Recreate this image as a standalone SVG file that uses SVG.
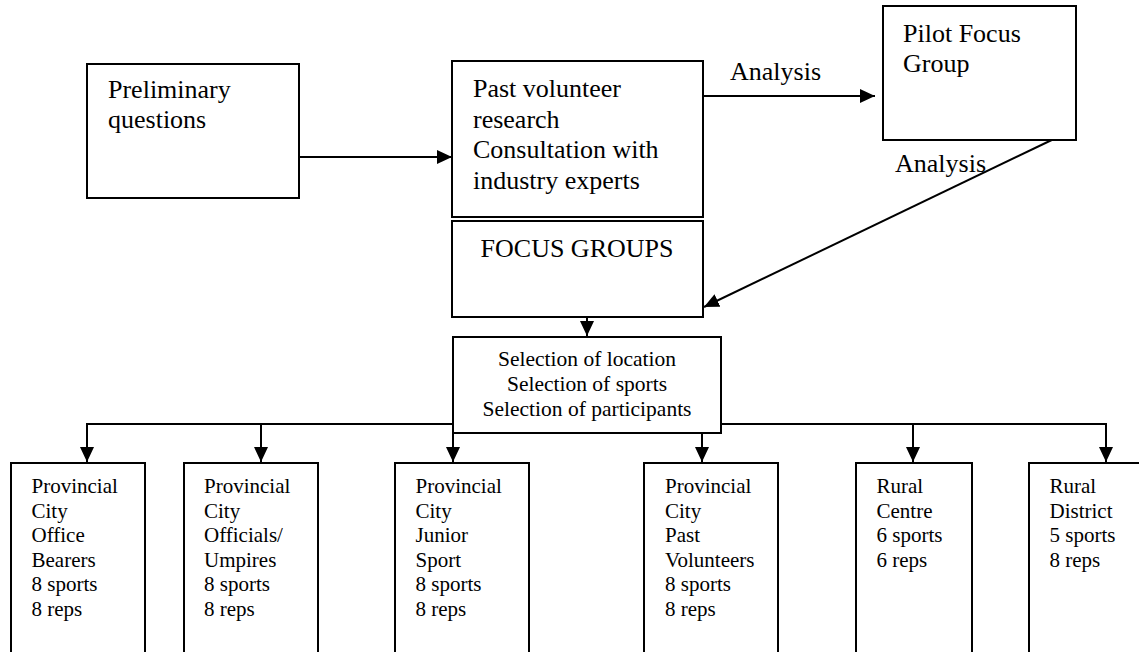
<svg xmlns="http://www.w3.org/2000/svg" width="1139" height="652" viewBox="0 0 1139 652">
<style>
.box{fill:#fff;stroke:#000;stroke-width:2}
.ln{fill:none;stroke:#000;stroke-width:2}
text{font-family:'Liberation Serif','DejaVu Serif','Times New Roman',serif;fill:#000}
.big{font-size:26px}
.mid{font-size:21.5px}
.sm{font-size:21px}
</style>
<defs>
<marker id="ah" markerUnits="userSpaceOnUse" markerWidth="15" markerHeight="14" refX="15" refY="7" orient="auto" viewBox="0 0 15 14">
<path d="M0,0 L15,7 L0,14 z" fill="#000"/>
</marker>
</defs>
<rect width="1139" height="652" fill="#fff"/>
<g id="connectors">
<line class="ln" x1="299" y1="157" x2="452" y2="157" marker-end="url(#ah)"/>
<line class="ln" x1="703" y1="96" x2="875" y2="96" marker-end="url(#ah)"/>
<line class="ln" x1="1058" y1="137" x2="704" y2="307" marker-end="url(#ah)"/>
<line class="ln" x1="587" y1="298" x2="587" y2="336" marker-end="url(#ah)"/>
<line class="ln" x1="87" y1="424" x2="1106" y2="424"/>
<line class="ln" x1="87" y1="423" x2="87" y2="462" marker-end="url(#ah)"/>
<line class="ln" x1="261" y1="424" x2="261" y2="462" marker-end="url(#ah)"/>
<line class="ln" x1="453" y1="424" x2="453" y2="462" marker-end="url(#ah)"/>
<line class="ln" x1="702" y1="433" x2="702" y2="462" marker-end="url(#ah)"/>
<line class="ln" x1="913" y1="424" x2="913" y2="462" marker-end="url(#ah)"/>
<line class="ln" x1="1106" y1="423" x2="1106" y2="462" marker-end="url(#ah)"/>
</g>
<g id="preliminary">
<rect class="box" x="87" y="64" width="212" height="134"/>
<text class="big" x="108" y="98">Preliminary</text>
<text class="big" x="108" y="128">questions</text>
</g>
<g id="past">
<rect class="box" x="452" y="61" width="251" height="156"/>
<text class="big" x="473" y="97">Past volunteer</text>
<text class="big" x="473" y="127.5">research</text>
<text class="big" x="473" y="158">Consultation with</text>
<text class="big" x="473" y="188.5">industry experts</text>
</g>
<g id="analysis1">
<text class="big" x="730" y="80">Analysis</text>
</g>
<g id="pilot">
<rect class="box" x="883" y="6" width="193" height="134"/>
<text class="big" x="903" y="42">Pilot Focus</text>
<text class="big" x="903" y="72">Group</text>
</g>
<g id="analysis2">
<text class="big" x="895" y="172">Analysis</text>
</g>
<g id="focus">
<rect class="box" x="452" y="221" width="251" height="96"/>
<text class="big" x="577" y="257" text-anchor="middle">FOCUS GROUPS</text>
</g>
<g id="selection">
<rect class="box" x="453" y="337" width="268" height="96"/>
<text class="mid" x="587" y="366" text-anchor="middle">Selection of location</text>
<text class="mid" x="587" y="391" text-anchor="middle">Selection of sports</text>
<text class="mid" x="587" y="416" text-anchor="middle">Selection of participants</text>
</g>
<g id="office">
<rect class="box" x="11" y="463" width="134" height="240"/>
<text class="sm"><tspan x="31.5" y="493">Provincial</tspan><tspan x="31.5" y="517.5">City</tspan><tspan x="31.5" y="542">Office</tspan><tspan x="31.5" y="566.5">Bearers</tspan><tspan x="31.5" y="591">8 sports</tspan><tspan x="31.5" y="615.5">8 reps</tspan></text>
</g>
<g id="officials">
<rect class="box" x="184" y="463" width="134" height="240"/>
<text class="sm"><tspan x="204" y="493">Provincial</tspan><tspan x="204" y="517.5">City</tspan><tspan x="204" y="542">Officials/</tspan><tspan x="204" y="566.5">Umpires</tspan><tspan x="204" y="591">8 sports</tspan><tspan x="204" y="615.5">8 reps</tspan></text>
</g>
<g id="junior">
<rect class="box" x="395" y="463" width="134" height="240"/>
<text class="sm"><tspan x="415.5" y="493">Provincial</tspan><tspan x="415.5" y="517.5">City</tspan><tspan x="415.5" y="542">Junior</tspan><tspan x="415.5" y="566.5">Sport</tspan><tspan x="415.5" y="591">8 sports</tspan><tspan x="415.5" y="615.5">8 reps</tspan></text>
</g>
<g id="pastvol">
<rect class="box" x="644" y="463" width="134" height="240"/>
<text class="sm"><tspan x="665" y="493">Provincial</tspan><tspan x="665" y="517.5">City</tspan><tspan x="665" y="542">Past</tspan><tspan x="665" y="566.5">Volunteers</tspan><tspan x="665" y="591">8 sports</tspan><tspan x="665" y="615.5">8 reps</tspan></text>
</g>
<g id="rural-centre">
<rect class="box" x="856" y="463" width="116" height="240"/>
<text class="sm"><tspan x="876.5" y="493">Rural</tspan><tspan x="876.5" y="517.5">Centre</tspan><tspan x="876.5" y="542">6 sports</tspan><tspan x="876.5" y="566.5">6 reps</tspan></text>
</g>
<g id="rural-district">
<rect class="box" x="1029" y="463" width="140" height="240"/>
<text class="sm"><tspan x="1049.5" y="493">Rural</tspan><tspan x="1049.5" y="517.5">District</tspan><tspan x="1049.5" y="542">5 sports</tspan><tspan x="1049.5" y="566.5">8 reps</tspan></text>
</g>
</svg>
